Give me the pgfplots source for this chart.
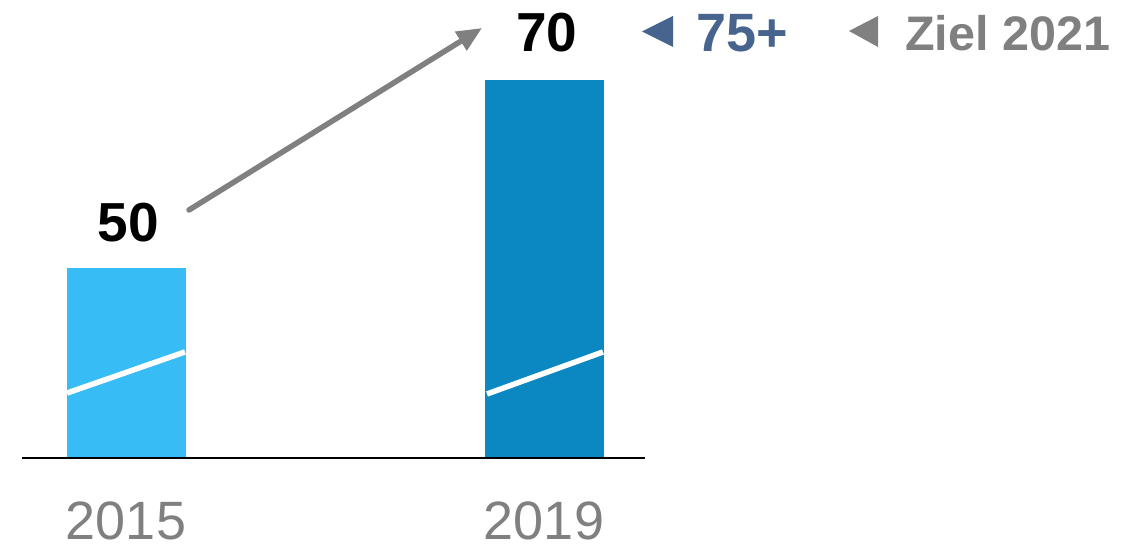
\documentclass[border=0pt]{standalone}
\usepackage{pgfplots}
\pgfplotsset{compat=1.18}
\usepackage{fontspec}
\setmainfont{Liberation Sans}
\usetikzlibrary{arrows.meta}
\definecolor{lightbar}{RGB}{56,188,246}
\definecolor{darkbar}{RGB}{11,136,193}
\definecolor{txtgray}{RGB}{128,128,128}
\definecolor{tgtblue}{RGB}{70,100,142}
\begin{document}
\begin{tikzpicture}[x=1pt,y=1pt]
\path[use as bounding box] (0,0) rectangle (1138,545);
\begin{axis}[
  at={(22pt,87pt)}, anchor=south west,
  width=623pt, height=458pt, scale only axis,
  xmin=-0.2488, xmax=1.2416, ymin=29.79, ymax=78.51,
  axis x line*=bottom, axis y line=none,
  x axis line style={-, black, line width=2pt},
  xtick={0,1}, xticklabels={2015,2019},
  major tick length=0pt,
  xticklabel style={font=\fontsize{54}{60}\selectfont, text=txtgray, anchor=base, inner sep=0pt, text depth=0pt, yshift=-82pt},
  ybar, bar width=119pt, bar shift=0pt,
  clip mode=individual, axis on top,
]
\addplot[fill=lightbar, draw=none] coordinates {(0,50)};
\addplot[fill=darkbar, draw=none] coordinates {(1,70)};
\draw[white, line width=5.5pt] (axis cs:-0.1411,36.70) -- (axis cs:0.1411,41.07);
\draw[white, line width=5.5pt] (axis cs:0.8636,36.60) -- (axis cs:1.1411,41.07);
\draw[txtgray, line width=5.5pt, line cap=round, -{Triangle[length=25pt, width=21pt]}] (axis cs:0.1507,56.17) -- (axis cs:0.8517,75.53);
\node[anchor=base, font=\bfseries\fontsize{55}{60}\selectfont] at (axis cs:0.005,52.77) {50};
\node[anchor=base, font=\bfseries\fontsize{55}{60}\selectfont] at (axis cs:1.007,72.98) {70};
\end{axis}
\fill[tgtblue] (642,513.5) -- (673,529) -- (673,498) -- cycle;
\node[anchor=base west, inner sep=0pt, text=tgtblue, font=\bfseries\fontsize{54}{60}\selectfont] at (696,493.5) {75+};
\fill[txtgray] (849,514) -- (878,529) -- (878,498) -- cycle;
\node[anchor=base west, inner sep=0pt, text=txtgray, font=\bfseries\fontsize{48.5}{56}\selectfont] at (905,494.5) {Ziel 2021};
\end{tikzpicture}
\end{document}
